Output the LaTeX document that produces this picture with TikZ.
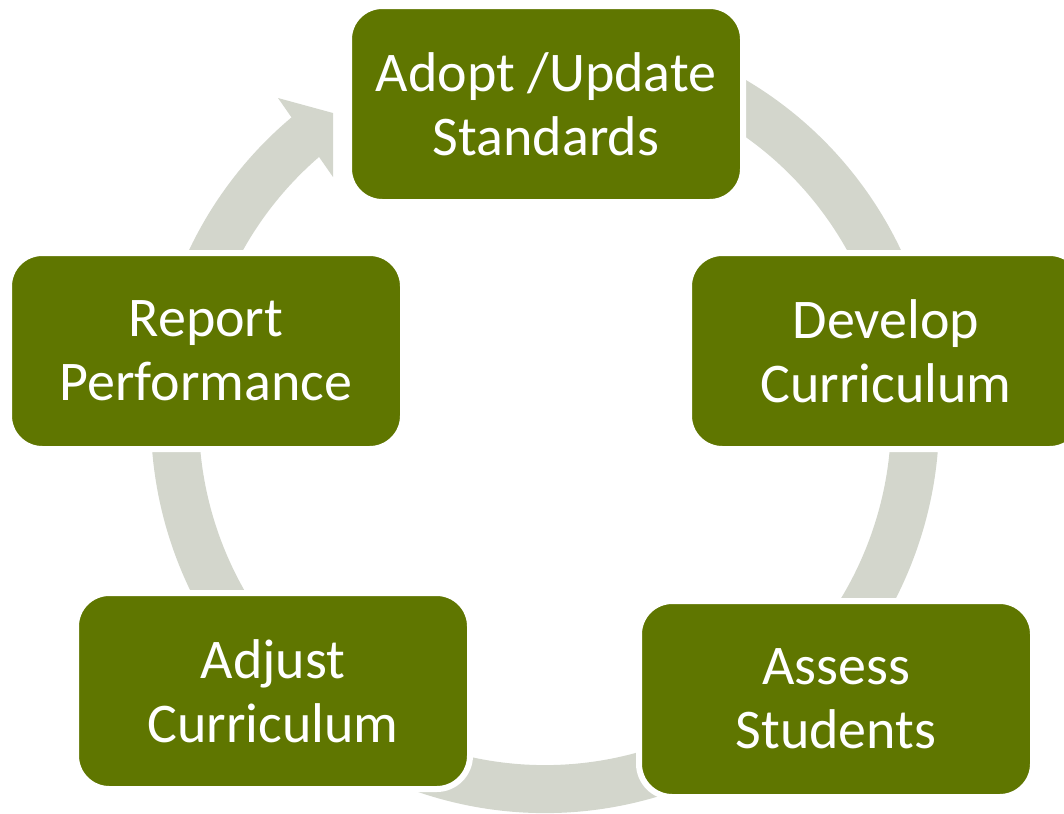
\documentclass[tikz,border=0pt]{standalone}
\usepackage{fontspec}
\setmainfont{Carlito}
\usetikzlibrary{positioning}
\definecolor{leaf}{RGB}{95,118,0}
\definecolor{pebble}{RGB}{211,214,204}
\tikzset{
        x=0.75pt, y=-0.75pt, % one unit is one pixel of the reference
        stage/.style={fill=leaf, draw=white, line width=4.5pt, rounded corners=25pt,
                minimum width=295.5pt, minimum height=147pt, align=center,
                text=white, font=\fontsize{42}{48}\selectfont}, % the green boxes
        ring/.style={draw=pebble, line width=36pt}, % the grey cycle band
        }

\begin{document}
\begin{tikzpicture}
        \useasboundingbox (0,0) rectangle (1064,814);
        \coordinate (hub) at (545,419);

        % grey band round the cycle, with its head near the top
        \draw[ring] (hub) ++(70:277.5pt) arc[start angle=70, end angle=-230, radius=277.5pt];
        \fill[pebble] (278,98) -- (333,113) -- (333,177) -- cycle;

        \node[stage] (Adopt) at (546,104) {Adopt /Update\\Standards};
        \node[stage] (Develop) at (886,351) {Develop\\Curriculum};
        \node[stage] (Assess) at (836,699) {Assess\\Students};
        \node[stage] (Adjust) at (273,691) {Adjust\\Curriculum};
        \node[stage] (Report) at (206,351) {Report\\Performance};
\end{tikzpicture}
\end{document}
